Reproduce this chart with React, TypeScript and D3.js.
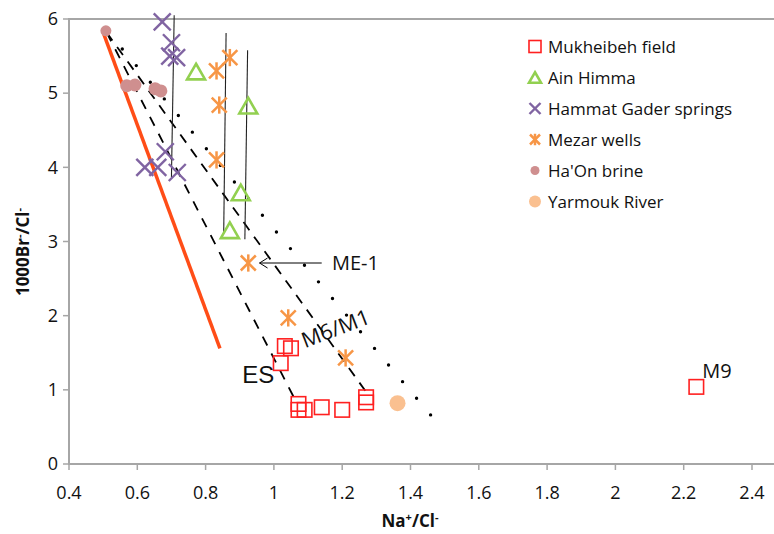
import React from "react";
import * as d3 from "d3";

const xTicks = [0.4, 0.6, 0.8, 1, 1.2, 1.4, 1.6, 1.8, 2, 2.2, 2.4];
const xTickLabels = ["0.4", "0.6", "0.8", "1", "1.2", "1.4", "1.6", "1.8", "2", "2.2", "2.4"];
const yTicks = [0, 1, 2, 3, 4, 5, 6];

const mukheibeh: [number, number][] = [
  [1.032, 1.59], [1.05, 1.56], [1.02, 1.36], [1.072, 0.81], [1.072, 0.73],
  [1.09, 0.73], [1.14, 0.765], [1.2, 0.73], [1.27, 0.9], [1.27, 0.83], [2.237, 1.04],
];
const ainHimma: [number, number][] = [
  [0.772, 5.27], [0.925, 4.81], [0.903, 3.64], [0.871, 3.13],
];
const hammatGader: [number, number][] = [
  [0.673, 5.96], [0.7, 5.68], [0.695, 5.5], [0.715, 5.48],
  [0.682, 4.21], [0.622, 4.0], [0.66, 4.0], [0.717, 3.93],
];
const mezar: [number, number][] = [
  [0.871, 5.48], [0.832, 5.3], [0.84, 4.84], [0.832, 4.1],
  [0.925, 2.71], [1.042, 1.97], [1.21, 1.43],
];
const haOn: [number, number][] = [
  [0.508, 5.84], [0.569, 5.1], [0.593, 5.11], [0.652, 5.06], [0.669, 5.03],
];
const yarmouk: [number, number][] = [[1.362, 0.82]];

const redLine: [number, number][] = [[0.5, 5.82], [0.842, 1.56]];
const dashLine1: [number, number][] = [[0.51, 5.82], [1.065, 0.84]];
const dashLine2: [number, number][] = [[0.51, 5.82], [1.272, 0.96]];
const dotLine: [number, number][] = [[0.515, 5.82], [1.461, 0.65]];
const verticals: [number, number][][] = [
  [[0.708, 6.05], [0.7, 3.87]],
  [[0.86, 5.81], [0.853, 3.11]],
  [[0.923, 5.58], [0.915, 3.03]],
];

const legendItems = ["Mukheibeh field", "Ain Himma", "Hammat Gader springs", "Mezar wells", "Ha'On brine", "Yarmouk River"];

const C = {
  red: "#ff2020",
  green: "#92d050",
  purple: "#8064a2",
  orange: "#f79646",
  haon: "#cf8f8f",
  yarmouk: "#fac090",
  redLine: "#ff4d17",
  axis: "#a6a6a6",
};

const FONT = "'Open Sans', 'Noto Sans', sans-serif";

function Square({ x, y, s }: { x: number; y: number; s: number }) {
  return <rect x={x - s / 2} y={y - s / 2} width={s} height={s} fill="none" stroke={C.red} strokeWidth={1.6} />;
}
function Tri({ x, y, s }: { x: number; y: number; s: number }) {
  const h = s * 0.87;
  const p = `${x},${y - h * 0.6} ${x + s / 2},${y + h * 0.4} ${x - s / 2},${y + h * 0.4}`;
  return <polygon points={p} fill="none" stroke={C.green} strokeWidth={2.6} strokeLinejoin="miter" />;
}
function XMark({ x, y, s }: { x: number; y: number; s: number }) {
  const h = s / 2;
  return (
    <g stroke={C.purple} strokeWidth={2.4}>
      <line x1={x - h} y1={y - h} x2={x + h} y2={y + h} />
      <line x1={x - h} y1={y + h} x2={x + h} y2={y - h} />
    </g>
  );
}
function Star({ x, y, s }: { x: number; y: number; s: number }) {
  const h = s / 2;
  return (
    <g stroke={C.orange} strokeWidth={2.5}>
      <line x1={x - h} y1={y - h} x2={x + h} y2={y + h} />
      <line x1={x - h} y1={y + h} x2={x + h} y2={y - h} />
      <line x1={x} y1={y - h * 1.15} x2={x} y2={y + h * 1.15} />
    </g>
  );
}

export default function App() {
  const W = 774, H = 534;
  const x = d3.scaleLinear().domain([0.4, 2.5]).range([69, 69 + 2.1 * 341.5]);
  const y = d3.scaleLinear().domain([0, 6]).range([464, 19]);
  const line = d3.line<[number, number]>().x((d) => x(d[0])).y((d) => y(d[1]));

  const dotLen = Math.hypot(x(dotLine[1][0]) - x(dotLine[0][0]), y(dotLine[1][1]) - y(dotLine[0][1]));
  const dotGap = dotLen / Math.round(dotLen / 22) - 0.05;

  return (
    <svg width={W} height={H} style={{ position: "absolute", left: 0, top: 0, background: "#fff" }}>
      <line x1={x(0.4)} x2={W} y1={y(6)} y2={y(6)} stroke={C.axis} strokeWidth={2} />
      <line x1={x(0.4)} x2={W} y1={y(0)} y2={y(0)} stroke={C.axis} strokeWidth={2} />
      <line x1={x(0.4)} x2={x(0.4)} y1={y(0) + 1} y2={y(6) - 1} stroke={C.axis} strokeWidth={2} />
      {yTicks.map((t) => (
        <g key={"y" + t}>
          <line x1={x(0.4) - 6} x2={x(0.4)} y1={y(t)} y2={y(t)} stroke={C.axis} strokeWidth={1.5} />
          <text x={x(0.4) - 11} y={y(t)} dy="0.35em" textAnchor="end" fontFamily={FONT} fontSize={18} fill="#111">{t}</text>
        </g>
      ))}
      {xTicks.map((t, i) => (
        <g key={"x" + t}>
          <line x1={x(t)} x2={x(t)} y1={y(0)} y2={y(0) + 6} stroke={C.axis} strokeWidth={1.5} />
          <text x={x(t)} y={y(0) + 29} dy="0.35em" textAnchor="middle" fontFamily={FONT} fontSize={18} fill="#111">{xTickLabels[i]}</text>
        </g>
      ))}
      <text x={410} y={527} textAnchor="middle" fontFamily={FONT} fontSize={17} fontWeight="bold" fill="#111">
        Na<tspan dy="-6" fontSize={11}>+</tspan><tspan dy="6">/Cl</tspan><tspan dy="-6" fontSize={11}>-</tspan>
      </text>
      <text transform={`translate(29,252) rotate(-90)`} textAnchor="middle" fontFamily={FONT} fontSize={17} fontWeight="bold" fill="#111">
        1000Br<tspan dy="-6" fontSize={11}>-</tspan><tspan dy="6">/Cl</tspan><tspan dy="-6" fontSize={11}>-</tspan>
      </text>

      <path d={line(redLine) || ""} stroke={C.redLine} strokeWidth={3.5} fill="none" />
      <path d={line(dashLine1) || ""} stroke="#000" strokeWidth={1.8} strokeDasharray="10,9" fill="none" />
      <path d={line(dashLine2) || ""} stroke="#000" strokeWidth={1.8} strokeDasharray="10,8" fill="none" />
      <path d={line(dotLine) || ""} stroke="#000" strokeWidth={3.4} strokeDasharray={`0,${dotGap}`} strokeLinecap="round" fill="none" />
      {verticals.map((v, i) => (
        <path key={"v" + i} d={line(v) || ""} stroke="#222" strokeWidth={1.1} fill="none" />
      ))}

      {haOn.map((d, i) => (
        <circle key={"h" + i} cx={x(d[0])} cy={y(d[1])} r={i === 0 ? 5.5 : 6.5} fill={C.haon} />
      ))}
      {yarmouk.map((d, i) => (
        <circle key={"yr" + i} cx={x(d[0])} cy={y(d[1])} r={8} fill={C.yarmouk} />
      ))}
      {mukheibeh.map((d, i) => <Square key={"m" + i} x={x(d[0])} y={y(d[1])} s={14.5} />)}
      {ainHimma.map((d, i) => <Tri key={"a" + i} x={x(d[0])} y={y(d[1])} s={18} />)}
      {hammatGader.map((d, i) => <XMark key={"g" + i} x={x(d[0])} y={y(d[1])} s={17} />)}
      {mezar.map((d, i) => <Star key={"z" + i} x={x(d[0])} y={y(d[1])} s={15} />)}

      <line x1={x(1.14)} x2={x(0.958)} y1={y(2.71)} y2={y(2.71)} stroke="#000" strokeWidth={1} />
      <path d={`M${x(0.958) + 8},${y(2.71) - 5} L${x(0.958)},${y(2.71)} L${x(0.958) + 8},${y(2.71) + 5}`} stroke="#000" strokeWidth={1} fill="none" />
      <text x={x(1.17)} y={y(2.71)} dy="0.36em" fontFamily={FONT} fontSize={20} fill="#111">ME-1</text>
      <text transform={`translate(${x(1.091)},${y(1.56)}) rotate(-21)`} fontFamily={FONT} fontSize={21.5} fill="#111">M6/M1</text>
      <text x={x(0.907)} y={y(1.09)} fontFamily="'Liberation Sans', Arial, sans-serif" fontSize={24} fill="#111">ES</text>
      <text x={x(2.254)} y={y(1.16)} fontFamily={FONT} fontSize={20} fill="#111">M9</text>

      {legendItems.map((name, i) => {
        const ly = 46.5 + i * 31;
        const lx = 535;
        let mark: React.ReactNode = null;
        if (i === 0) mark = <rect x={lx - 6} y={ly - 6} width={12} height={12} fill="none" stroke={C.red} strokeWidth={1.6} />;
        if (i === 1) mark = <Tri x={lx} y={ly + 1} s={12} />;
        if (i === 2) mark = <XMark x={lx} y={ly} s={11} />;
        if (i === 3) mark = <Star x={lx} y={ly} s={10} />;
        if (i === 4) mark = <circle cx={lx} cy={ly} r={4.5} fill={C.haon} />;
        if (i === 5) mark = <circle cx={lx} cy={ly} r={6} fill={C.yarmouk} />;
        return (
          <g key={name}>
            {mark}
            <text x={548} y={ly} dy="0.36em" fontFamily={FONT} fontSize={17} fill="#111">{name}</text>
          </g>
        );
      })}
    </svg>
  );
}
